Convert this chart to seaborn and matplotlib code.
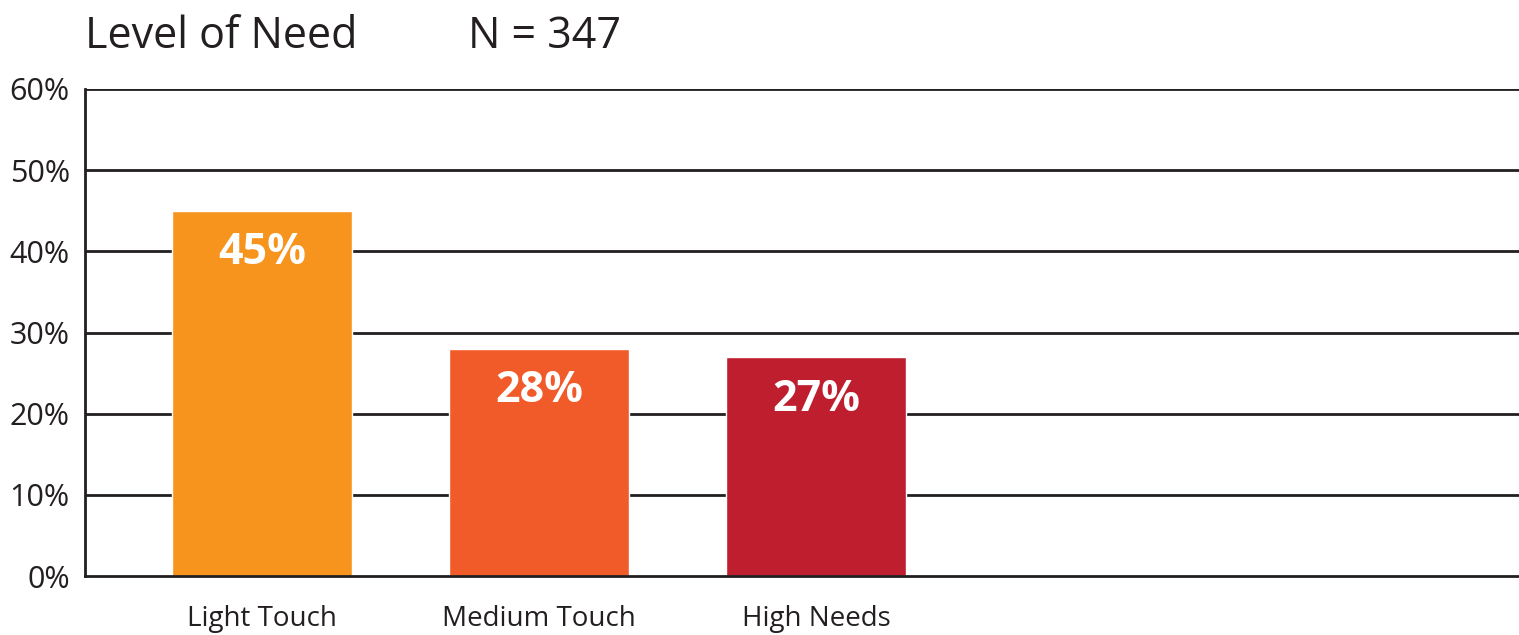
import matplotlib
matplotlib.use("Agg")
import matplotlib.pyplot as plt
import seaborn as sns
import pandas as pd

categories = ["Light Touch", "Medium Touch", "High Needs"]
shares = [45, 28, 27]
bar_colors = ["#F7941E", "#F15A29", "#BE1E2D"]
y_ticks = [0, 10, 20, 30, 40, 50, 60]
title_text = "Level of Need"
sample_text = "N = 347"

sns.set_theme(style="white")
plt.rcParams["font.family"] = ["Open Sans", "DejaVu Sans"]

ink = "#231F20"
df = pd.DataFrame({"category": categories, "share": shares})

fig = plt.figure(figsize=(15.19, 6.35), dpi=100)
ax = fig.add_axes([85 / 1519, 1 - 576 / 635, 1 - 85 / 1519, (576 - 89) / 635])

for y in y_ticks[1:]:
    ax.axhline(y, color=ink, lw=2, zorder=1)

sns.barplot(data=df, x="category", y="share", hue="category", palette=bar_colors,
            legend=False, width=0.649, saturation=1, ax=ax, zorder=2)

for i, v in enumerate(shares):
    ax.text(i, v - 5.2, f"{v}%", ha="center", va="center", color="white",
            fontsize=31, fontweight="bold", zorder=3)

ax.set_xlim(-0.638, 4.534)
ax.set_ylim(0, 60)
ax.set_yticks(y_ticks)
ax.set_yticklabels([f"{t}%" for t in y_ticks], fontsize=22, color=ink,
                   va="center_baseline")
ax.tick_params(axis="x", labelsize=20, colors=ink, pad=21, length=0)
ax.tick_params(axis="y", pad=11, length=0)
ax.set_xlabel("")
ax.set_ylabel("")

for side in ["top", "right"]:
    ax.spines[side].set_visible(False)
for side in ["left", "bottom"]:
    ax.spines[side].set_color(ink)
    ax.spines[side].set_linewidth(2)
    ax.spines[side].set_zorder(4)

fig.text(85 / 1519, 1 - 48 / 635, title_text, fontsize=31, color=ink, va="baseline")
fig.text(468 / 1519, 1 - 48 / 635, sample_text, fontsize=31, color=ink, va="baseline")

fig.savefig("out.png", dpi=100, facecolor="white")
